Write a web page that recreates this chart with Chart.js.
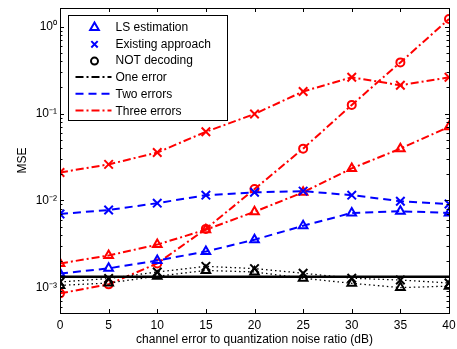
<!DOCTYPE html>
<html>
<head>
<meta charset="utf-8">
<script src="https://cdn.jsdelivr.net/npm/chart.js@4/dist/chart.umd.min.js"></script>
<style>
  html, body { margin: 0; padding: 0; background: #fff; }
  #wrap { width: 457px; height: 349px; }
</style>
</head>
<body>
<div id="wrap"><canvas id="mseChart" width="457" height="349"></canvas></div>
<script>
// données
const snr = [0, 5, 10, 15, 20, 25, 30, 35, 40];

// trois erreurs (rouge)
const threeLS = [0.00188, 0.00232, 0.0031, 0.0046, 0.0074, 0.0124, 0.0234, 0.0395, 0.0705];
const threeExisting = [0.021, 0.026, 0.0356, 0.0618, 0.099, 0.18, 0.262, 0.212, 0.262];
const threeNOT = [0.00085, 0.00108, 0.00188, 0.0047, 0.0135, 0.0395, 0.126, 0.389, 1.23];

// deux erreurs (bleu)
const twoLS = [0.00144, 0.00165, 0.00203, 0.00258, 0.00353, 0.0051, 0.00718, 0.0075, 0.00718];
const twoExisting = [0.00699, 0.00776, 0.0093, 0.0115, 0.0124, 0.0128, 0.0115, 0.0098, 0.0091];

// une erreur (noir)
const oneLS = [0.00105, 0.00112, 0.00134, 0.00156, 0.0015, 0.00127, 0.00111, 0.00099, 0.00103];
const oneExisting = [0.00115, 0.00126, 0.0015, 0.00174, 0.00164, 0.00145, 0.00127, 0.00121, 0.00112];
const oneNOT = [0.00132, 0.00132, 0.00132, 0.00132, 0.00132, 0.00132, 0.00132, 0.00132, 0.00132];

const yTickValues = [0.001, 0.01, 0.1, 1];
const yTickLabels = ['10\u207B\u00B3', '10\u207B\u00B2', '10\u207B\u00B9', '10\u2070'];

const legendLabels = ['LS estimation', 'Existing approach', 'NOT decoding', 'One error', 'Two errors', 'Three errors'];

const RED = '#ff0000', BLUE = '#0000ff', BLACK = '#000000';
const DASHDOT = [8, 3, 2, 3], DASHED = [8, 5], DOTTED = [1.5, 3];

function serie(label, values, color, dash, style, radius, width) {
    return {
        label: label,
        data: snr.map((x, i) => ({ x: x, y: values[i] })),
        borderColor: color,
        borderWidth: width || 2,
        borderDash: dash,
        pointStyle: style || false,
        pointRadius: style ? radius : 0,
        pointBorderColor: color,
        pointBackgroundColor: 'rgba(0,0,0,0)',
        pointBorderWidth: 2,
        fill: false,
        tension: 0
    };
}

// boîte, graduations internes (majeures et mineures) comme sous MATLAB
const axesBox = {
    id: 'axesBox',
    afterDatasetsDraw(chart) {
        const { ctx, chartArea: a, scales } = chart;
        ctx.save();
        ctx.strokeStyle = '#000';
        ctx.lineWidth = 1;
        ctx.setLineDash([]);
        ctx.beginPath();
        snr.forEach(v => {
            const px = Math.round(scales.x.getPixelForValue(v)) + 0.5;
            ctx.moveTo(px, a.bottom); ctx.lineTo(px, a.bottom - 4);
            ctx.moveTo(px, a.top); ctx.lineTo(px, a.top + 4);
        });
        for (let e = -4; e <= 0; e++) {
            for (let m = 1; m <= 9; m++) {
                const v = m * Math.pow(10, e);
                if (v < scales.y.min || v > scales.y.max) continue;
                const py = Math.round(scales.y.getPixelForValue(v)) + 0.5;
                const len = m === 1 ? 4 : 2.5;
                ctx.moveTo(a.left, py); ctx.lineTo(a.left + len, py);
                ctx.moveTo(a.right, py); ctx.lineTo(a.right - len, py);
            }
        }
        ctx.stroke();
        ctx.strokeRect(Math.round(a.left) + 0.5, Math.round(a.top) + 0.5,
            Math.round(a.right - a.left), Math.round(a.bottom - a.top));
        ctx.restore();
    }
};

// légende dessinée à la main (marqueurs et styles de trait séparés)
const matlabLegend = {
    id: 'matlabLegend',
    afterDraw(chart) {
        const ctx = chart.ctx;
        const a = chart.chartArea;
        const bx = a.left + 8.5, by = a.top + 7.5, bw = 159, bh = 105;
        ctx.save();
        ctx.fillStyle = '#fff';
        ctx.fillRect(bx, by, bw, bh);
        ctx.strokeStyle = '#000';
        ctx.lineWidth = 1;
        ctx.setLineDash([]);
        ctx.strokeRect(bx, by, bw, bh);

        const rowY = i => by + 11 + i * 16.8;
        const markers = [
            { style: 'triangle', color: BLUE, r: 5 },
            { style: 'crossRot', color: BLUE, r: 4.5 },
            { style: 'circle', color: BLACK, r: 3.5 }
        ];
        markers.forEach((m, i) => {
            ctx.strokeStyle = m.color;
            ctx.fillStyle = 'rgba(0,0,0,0)';
            ctx.lineWidth = 2;
            Chart.helpers.drawPoint(ctx, { pointStyle: m.style, radius: m.r, rotation: 0, borderWidth: 2 }, bx + 26, rowY(i) + 1);
        });
        const lines = [
            { color: BLACK, dash: DASHDOT },
            { color: BLUE, dash: DASHED },
            { color: RED, dash: DASHDOT }
        ];
        lines.forEach((l, j) => {
            const y = rowY(j + 3);
            ctx.strokeStyle = l.color;
            ctx.lineWidth = 2;
            ctx.setLineDash(l.dash);
            ctx.beginPath();
            ctx.moveTo(bx + 7, y); ctx.lineTo(bx + 43, y);
            ctx.stroke();
        });
        ctx.setLineDash([]);
        ctx.fillStyle = '#000';
        ctx.font = '12px "Liberation Sans", Arial, sans-serif';
        ctx.textBaseline = 'middle';
        ctx.textAlign = 'left';
        legendLabels.forEach((t, i) => ctx.fillText(t, bx + 47, rowY(i) + 1));
        ctx.restore();
    }
};

const ctx = document.getElementById('mseChart').getContext('2d');
new Chart(ctx, {
    type: 'line',
    data: {
        datasets: [
            serie('One error - NOT decoding', oneNOT, BLACK, [], null, 0, 2.5),
            serie('One error - LS estimation', oneLS, BLACK, DOTTED, 'triangle', 5, 1.3),
            serie('One error - Existing approach', oneExisting, BLACK, DOTTED, 'crossRot', 6, 1.3),
            serie('Two errors - LS estimation', twoLS, BLUE, DASHED, 'triangle', 5),
            serie('Two errors - Existing approach', twoExisting, BLUE, DASHED, 'crossRot', 6),
            serie('Three errors - LS estimation', threeLS, RED, DASHDOT, 'triangle', 5),
            serie('Three errors - Existing approach', threeExisting, RED, DASHDOT, 'crossRot', 6),
            serie('Three errors - NOT decoding', threeNOT, RED, DASHDOT, 'circle', 4)
        ]
    },
    options: {
        responsive: false,
        animation: false,
        devicePixelRatio: 1,
        layout: { padding: { top: 5, right: 6, left: 0, bottom: 0 } },
        plugins: {
            legend: { display: false },
            tooltip: { enabled: false }
        },
        scales: {
            x: {
                type: 'linear',
                min: 0,
                max: 40,
                grid: { display: false, drawTicks: false },
                border: { display: false },
                ticks: {
                    stepSize: 5,
                    padding: 5,
                    color: '#000',
                    maxRotation: 0,
                    font: { family: '"Liberation Sans", Arial, sans-serif', size: 12 }
                },
                title: {
                    display: true,
                    text: 'channel error to quantization noise ratio (dB)',
                    color: '#000',
                    padding: { top: 0, bottom: 2 },
                    font: { family: '"Liberation Sans", Arial, sans-serif', size: 12 }
                },
                afterFit(scale) {
                    scale.height = 36;
                    scale.paddingLeft = 0;
                    scale.paddingRight = 0;
                }
            },
            y: {
                type: 'logarithmic',
                min: 5.05e-4,
                max: 1.647,
                grid: { display: false, drawTicks: false },
                border: { display: false },
                afterBuildTicks(scale) {
                    scale.ticks = yTickValues.map(v => ({ value: v }));
                },
                ticks: {
                    padding: 3,
                    color: '#000',
                    autoSkip: false,
                    font: { family: '"Liberation Sans", Arial, sans-serif', size: 12 },
                    callback(value) {
                        const i = yTickValues.indexOf(value);
                        return i >= 0 ? yTickLabels[i] : '';
                    }
                },
                title: {
                    display: true,
                    text: 'MSE',
                    color: '#000',
                    padding: { top: 15, bottom: 0 },
                    font: { family: '"Liberation Sans", Arial, sans-serif', size: 12 }
                },
                afterFit(scale) {
                    scale.width = 60;
                    scale.paddingTop = 0;
                    scale.paddingBottom = 0;
                }
            }
        }
    },
    plugins: [axesBox, matlabLegend]
});
</script>
</body>
</html>
